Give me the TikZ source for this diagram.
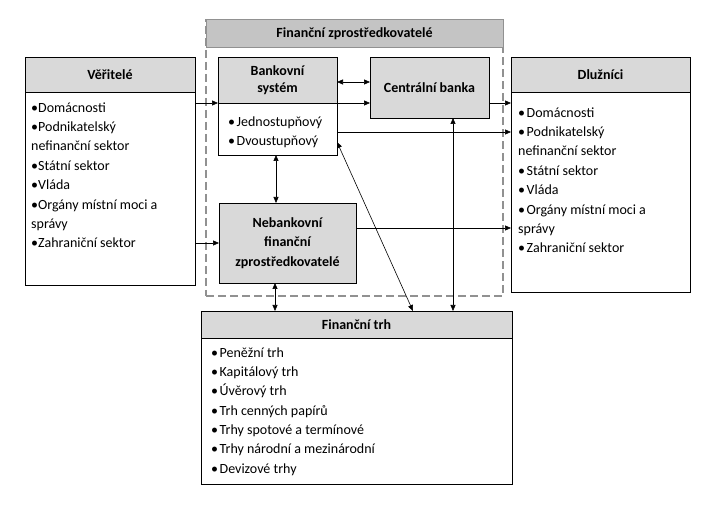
\documentclass[tikz,border=0pt]{standalone}
\usepackage{fontspec}
\setmainfont{Carlito}
\usetikzlibrary{arrows.meta}
\definecolor{boxgray}{RGB}{217,217,217}
\definecolor{hdrgray}{RGB}{196,196,196}
\definecolor{dashgray}{RGB}{145,145,145}
\newcommand{\bl}{•\kern1.5pt}
\begin{document}
\begin{tikzpicture}[x=1pt,y=-1pt,
  every node/.style={font=\fontsize{14}{19.4}\selectfont},
  box/.style={draw=black, line width=0.8pt, inner sep=0pt, outer sep=0pt},
  hdr/.style={box, fill=boxgray, font=\fontsize{14}{16}\selectfont\bfseries, align=center},
  items/.style={anchor=north west, inner sep=0pt, align=left},
  arr/.style={-{Triangle[length=6pt,width=5pt]}, line width=0.6pt},
  dbl/.style={{Triangle[length=6pt,width=5pt]}-{Triangle[length=6pt,width=5pt]}, line width=0.6pt}
]
\useasboundingbox[fill=white] (0,0) rectangle (705,513);

% outer dashed frame
\node[draw=dashgray, dashed, dash pattern=on 8pt off 4pt, line width=1.3pt, minimum width=297pt, minimum height=276pt, inner sep=0pt, outer sep=0pt] (fz) at (354.5,158) {};
\node[fill=hdrgray, draw=dashgray, line width=1pt, minimum width=297pt, minimum height=28pt, inner sep=0pt, outer sep=0pt, anchor=north, font=\fontsize{14}{16}\selectfont\bfseries] (fzh) at (fz.north) {Finanční zprostředkovatelé};

% Veritele
\node[box, minimum width=170pt, minimum height=228pt] (ver) at (110,171) {};
\node[hdr, minimum width=170pt, minimum height=35pt, anchor=north] (verh) at (ver.north) {Věřitelé};
\node[items] (vert) at (31,98.4) {\strut•Domácnosti\\•Podnikatelský\\nefinanční sektor\\•Státní sektor\\•Vláda\\•Orgány místní moci a\\správy\\•Zahraniční sektor};

% Dluznici
\node[box, minimum width=179pt, minimum height=235pt] (dl) at (600.5,174.5) {};
\node[hdr, minimum width=179pt, minimum height=35pt, anchor=north] (dlh) at (dl.north) {Dlužníci};
\node[items] (dlt) at (518,103.4) {\strut\bl Domácnosti\\\bl Podnikatelský\\nefinanční sektor\\\bl Státní sektor\\\bl Vláda\\\bl Orgány místní moci a\\správy\\\bl Zahraniční sektor};

% Bankovni system
\node[box, fill=white, minimum width=119pt, minimum height=98pt] (bank) at (277.5,106) {};
\node[hdr, minimum width=119pt, minimum height=46pt, anchor=north, font=\fontsize{14}{16.5}\selectfont\bfseries] (bankh) at (bank.north) {Bankovní\\systém};
\node[items, font=\fontsize{14}{18.5}\selectfont] (bankt) at (228,113.4) {\strut\bl Jednostupňový\\\bl Dvoustupňový};

% Centralni banka
\node[hdr, minimum width=119pt, minimum height=61pt] (cb) at (429.5,87.5) {Centrální banka};

% Nebankovni
\node[hdr, minimum width=137pt, minimum height=80pt, font=\fontsize{14}{19.5}\selectfont\bfseries] (nb) at (287.5,243) {Nebankovní\\finanční\\zprostředkovatelé};

% Financni trh
\node[box, minimum width=311pt, minimum height=173pt] (trh) at (356.5,397.5) {};
\node[hdr, minimum width=311pt, minimum height=27pt, anchor=north] (trhh) at (trh.north) {Finanční trh};
\node[items, font=\fontsize{14}{19.35}\selectfont] (trht) at (211,343.4) {\strut\bl Peněžní trh\\\bl Kapitálový trh\\\bl Úvěrový trh\\\bl Trh cenných papírů\\\bl Trhy spotové a termínové\\\bl Trhy národní a mezinárodní\\\bl Devizové trhy};

% connectors
\draw[arr] (ver.east |- 0,103) -- (bank.west |- 0,103);
\draw[arr] (ver.east |- 0,243) -- (nb.west |- 0,243);
\draw[dbl] (bank.east |- 0,82) -- (cb.west |- 0,82);
\draw[arr] (bank.east |- 0,103) -- (cb.west |- 0,103);
\draw[arr] (cb.east |- 0,103) -- (dl.west |- 0,103);
\draw[arr] (bank.east |- 0,132) -- (dl.west |- 0,132);
\draw[arr] (nb.east |- 0,228) -- (dl.west |- 0,228);
\draw[dbl] (bank.south -| 276,0) -- (nb.north -| 276,0);
\draw[dbl] (nb.south -| 275,0) -- (trh.north -| 275,0);
\draw[dbl] (cb.south -| 453,0) -- (trh.north -| 453,0);
\draw[dbl] (bank.east |- 0,142) -- (trh.north -| 413,0);
\end{tikzpicture}
\end{document}
